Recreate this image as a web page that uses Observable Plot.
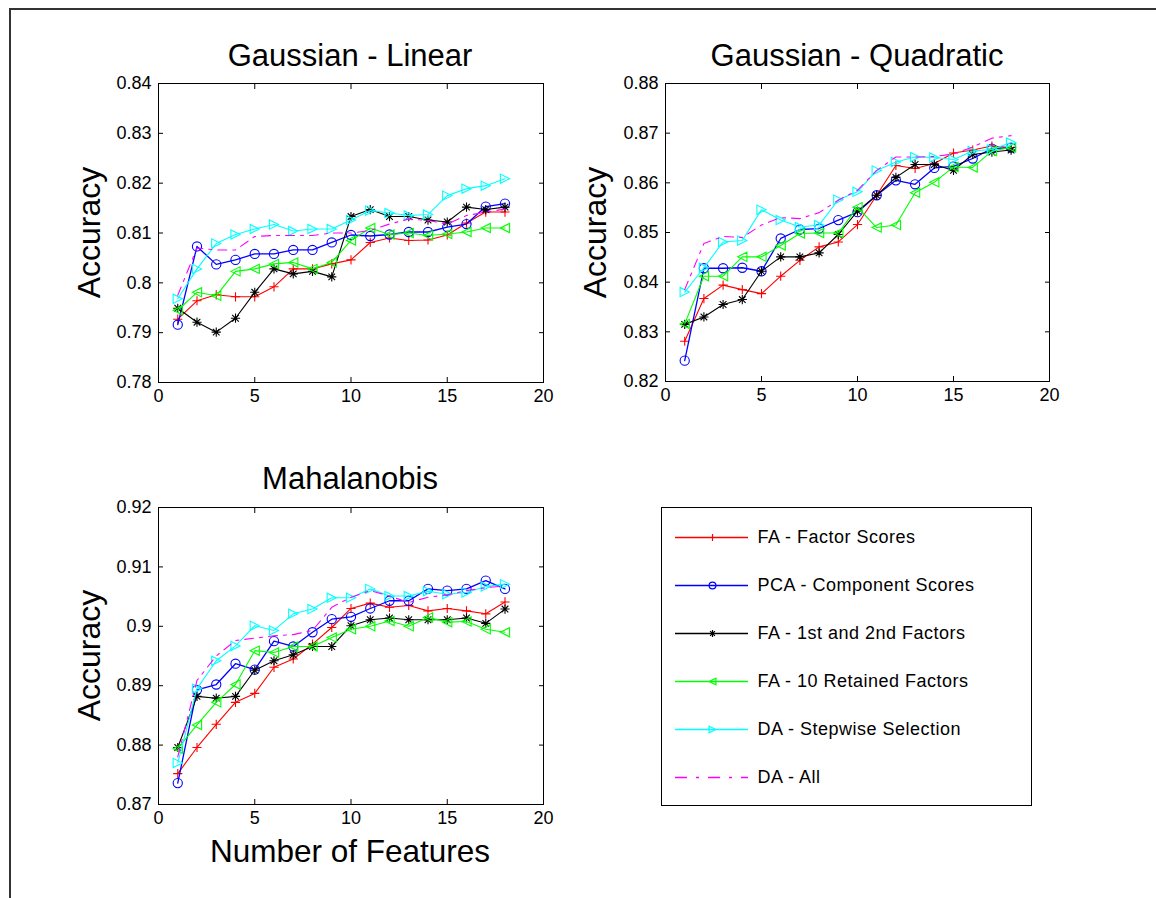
<!DOCTYPE html>
<html><head><meta charset="utf-8">
<script src="https://cdn.jsdelivr.net/npm/d3@7"></script>
<script src="https://cdn.jsdelivr.net/npm/@observablehq/plot@0.6"></script>
<style>
html,body{margin:0;padding:0;background:#fff;overflow:hidden;}
#page{position:relative;width:1156px;height:898px;overflow:hidden;background:#fff;font-family:"Liberation Sans",Arial,Helvetica,sans-serif;}
#border{position:absolute;left:9px;top:8px;width:1300px;height:1000px;border-left:2px solid #333;border-top:2px solid #333;}
.panel{position:absolute;}
#overlay{position:absolute;left:0;top:0;pointer-events:none;}
</style></head><body><div id="page"><div id="border"></div></div>
<script>
// ---- data ----
const features = [1,2,3,4,5,6,7,8,9,10,11,12,13,14,15,16,17,18];
const xTicks = [0,5,10,15,20];
const seriesNames = ["FA - Factor Scores","PCA - Component Scores","FA - 1st and 2nd Factors","FA - 10 Retained Factors","DA - Stepwise Selection","DA - All"];
const seriesColors = ["#ff0000","#0000ff","#000000","#00ff00","#00ffff","#ff00ff"];

const linTitle = "Gaussian - Linear";
const linTicks = [0.78,0.79,0.80,0.81,0.82,0.83,0.84];
const linFA   = [0.7927,0.7964,0.7976,0.7972,0.7972,0.7992,0.8028,0.8028,0.8038,0.8046,0.8081,0.8090,0.8085,0.8086,0.8096,0.8120,0.8142,0.8142];
const linPCA  = [0.7916,0.8073,0.8037,0.8046,0.8058,0.8058,0.8066,0.8066,0.8081,0.8096,0.8094,0.8097,0.8102,0.8102,0.8112,0.8118,0.8153,0.8159];
const linFA12 = [0.7949,0.7921,0.7901,0.7929,0.7981,0.8028,0.8018,0.8023,0.8012,0.8133,0.8147,0.8133,0.8133,0.8126,0.8122,0.8152,0.8147,0.8152];
const linFA10 = [0.7945,0.7981,0.7974,0.8023,0.8028,0.8038,0.8041,0.8028,0.8041,0.8085,0.8110,0.8097,0.8100,0.8095,0.8098,0.8102,0.8110,0.8110];
const linDAS  = [0.7968,0.8028,0.8079,0.8097,0.8108,0.8117,0.8104,0.8108,0.8108,0.8126,0.8145,0.8140,0.8135,0.8137,0.8175,0.8189,0.8195,0.8209];
const linDAA  = [0.7975,0.8070,0.8066,0.8066,0.8093,0.8095,0.8095,0.8095,0.8100,0.8100,0.8105,0.8118,0.8128,0.8125,0.8118,0.8135,0.8142,0.8148];

const quaTitle = "Gaussian - Quadratic";
const quaTicks = [0.82,0.83,0.84,0.85,0.86,0.87,0.88];
const quaFA   = [0.8281,0.8367,0.8394,0.8385,0.8377,0.8412,0.8444,0.8471,0.8481,0.8516,0.8575,0.8635,0.8629,0.8639,0.8660,0.8666,0.8674,0.8671];
const quaPCA  = [0.8242,0.8428,0.8428,0.8429,0.8422,0.8488,0.8506,0.8508,0.8525,0.8541,0.8575,0.8605,0.8597,0.8630,0.8633,0.8649,0.8669,0.8671];
const quaFA12 = [0.8315,0.8330,0.8355,0.8365,0.8422,0.8451,0.8451,0.8459,0.8496,0.8543,0.8575,0.8611,0.8637,0.8637,0.8625,0.8657,0.8662,0.8666];
const quaFA10 = [0.8316,0.8412,0.8412,0.8451,0.8451,0.8474,0.8498,0.8499,0.8499,0.8551,0.8510,0.8515,0.8580,0.8601,0.8632,0.8631,0.8664,0.8671];
const quaDAS  = [0.8380,0.8429,0.8481,0.8484,0.8546,0.8525,0.8511,0.8515,0.8566,0.8582,0.8625,0.8642,0.8652,0.8651,0.8647,0.8664,0.8667,0.8681];
const quaDAA  = [0.8385,0.8478,0.8492,0.8490,0.8515,0.8530,0.8528,0.8540,0.8565,0.8585,0.8625,0.8652,0.8652,0.8653,0.8658,0.8672,0.8690,0.8695];

const mahTitle = "Mahalanobis";
const mahTicks = [0.87,0.88,0.89,0.90,0.91,0.92];
const mahFA   = [0.8752,0.8796,0.8835,0.8872,0.8887,0.8931,0.8945,0.8970,0.8998,0.9030,0.9039,0.9032,0.9035,0.9026,0.9030,0.9026,0.9021,0.9041];
const mahPCA  = [0.8736,0.8893,0.8902,0.8937,0.8927,0.8975,0.8966,0.8990,0.9012,0.9016,0.9030,0.9043,0.9043,0.9063,0.9060,0.9063,0.9077,0.9063];
const mahFA12 = [0.8796,0.8882,0.8879,0.8882,0.8926,0.8942,0.8952,0.8966,0.8966,0.9001,0.9011,0.9014,0.9011,0.9011,0.9011,0.9014,0.9005,0.9029];
const mahFA10 = [0.8794,0.8834,0.8872,0.8902,0.8959,0.8956,0.8966,0.8966,0.8981,0.8995,0.9000,0.9009,0.9000,0.9015,0.9007,0.9008,0.8995,0.8990];
const mahDAS  = [0.8770,0.8895,0.8942,0.8967,0.9001,0.8993,0.9021,0.9029,0.9048,0.9048,0.9063,0.9051,0.9051,0.9059,0.9054,0.9057,0.9067,0.9071];
const mahDAA  = [0.8780,0.8909,0.8950,0.8976,0.8980,0.8984,0.8986,0.8993,0.9032,0.9049,0.9060,0.9051,0.9040,0.9049,0.9053,0.9060,0.9065,0.9068];

const yLabel = "Accuracy";
const xLabel = "Number of Features";

// ---- symbols (MATLAB-like markers) ----
const rad = s => Math.sqrt(s / Math.PI);
const symPlus = {draw(c, s){const r = rad(s); c.moveTo(-r,0); c.lineTo(r,0); c.moveTo(0,-r); c.lineTo(0,r);}};
const symStar = {draw(c, s){const r = rad(s), d = r*0.72; c.moveTo(-r,0); c.lineTo(r,0); c.moveTo(0,-r); c.lineTo(0,r); c.moveTo(-d,-d); c.lineTo(d,d); c.moveTo(-d,d); c.lineTo(d,-d);}};
const symTriL = {draw(c, s){const r = rad(s); c.moveTo(-r,0); c.lineTo(r,-r); c.lineTo(r,r); c.closePath();}};
const symTriR = {draw(c, s){const r = rad(s); c.moveTo(r,0); c.lineTo(-r,-r); c.lineTo(-r,r); c.closePath();}};
const seriesSymbols = [symPlus, "circle", symStar, symTriL, symTriR, null];
const seriesDash = [null, null, null, null, null, "9,6,3,6"];
const seriesWidth = [1.1, 1.3, 1.1, 1.1, 1.1, 1.1];

const FONT = '"Liberation Sans", Arial, Helvetica, sans-serif';
const fmtY = d => String(+d.toFixed(2));

function panel(seriesVals, ticks, geo) {
  const marks = [Plot.frame({stroke: "#000", strokeWidth: 1})];
  seriesVals.forEach((vals, i) => {
    const rows = features.map((x, j) => ({x, y: vals[j]}));
    marks.push(Plot.line(rows, {x: "x", y: "y", stroke: seriesColors[i], strokeWidth: seriesWidth[i],
      strokeDasharray: seriesDash[i] || undefined}));
    if (seriesSymbols[i]) {
      marks.push(Plot.dot(rows, {x: "x", y: "y", symbol: seriesSymbols[i], r: 4.6, stroke: seriesColors[i], fill: "none", strokeWidth: 1.1}));
    }
  });
  marks.push(
    Plot.axisX({anchor: "bottom", ticks: xTicks, tickSize: -5, tickPadding: 12, tickFormat: d => String(d), label: null}),
    Plot.axisX({anchor: "top", ticks: xTicks, tickSize: -5, tickFormat: () => "", label: null}),
    Plot.axisY({anchor: "left", ticks, tickSize: -5, tickPadding: 12, tickFormat: fmtY, label: null}),
    Plot.axisY({anchor: "right", ticks, tickSize: -5, tickFormat: () => "", label: null})
  );
  const svg = Plot.plot({
    width: geo.w, height: geo.h,
    marginLeft: geo.ml, marginRight: geo.mr, marginTop: geo.mt, marginBottom: geo.mb,
    x: {domain: [0, 20]},
    y: {domain: [ticks[0], ticks[ticks.length-1]]},
    style: {fontSize: "18px", fontFamily: FONT, color: "#000", background: "transparent", overflow: "visible"},
    marks
  });
  const div = document.createElement("div");
  div.className = "panel";
  div.style.left = geo.left + "px"; div.style.top = geo.top + "px";
  div.style.width = geo.w + "px"; div.style.height = geo.h + "px";
  div.appendChild(svg);
  document.getElementById("page").appendChild(div);
}

panel([linFA, linPCA, linFA12, linFA10, linDAS, linDAA], linTicks,
  {left: 60, top: 70, w: 500, h: 350, ml: 98, mr: 17, mt: 13, mb: 38});
panel([quaFA, quaPCA, quaFA12, quaFA10, quaDAS, quaDAA], quaTicks,
  {left: 560, top: 70, w: 500, h: 350, ml: 105, mr: 11, mt: 13, mb: 39});
panel([mahFA, mahPCA, mahFA12, mahFA10, mahDAS, mahDAA], mahTicks,
  {left: 60, top: 494, w: 500, h: 346, ml: 98, mr: 17, mt: 13, mb: 36});

// ---- legend ----
(function(){
  const marks = [Plot.frame({stroke: "#000", strokeWidth: 1})];
  seriesNames.forEach((name, i) => {
    marks.push(Plot.ruleY([name], {y: d => d, x1: 14, x2: 87, stroke: seriesColors[i], strokeWidth: 1.4,
      strokeDasharray: seriesDash[i] ? "12,9,3,9" : undefined}));
    if (seriesSymbols[i]) marks.push(Plot.dot([name], {y: d => d, x: 51, symbol: seriesSymbols[i], r: 3.4, stroke: seriesColors[i], fill: "none", strokeWidth: 1.2}));
  });
  marks.push(Plot.text(seriesNames, {y: d => d, x: 96, text: d => d, textAnchor: "start", fill: "#000", fontSize: 18}));
  const svg = Plot.plot({
    width: 370, height: 298, margin: 0,
    x: {domain: [0, 370], range: [0, 370], axis: null},
    y: {type: "point", domain: seriesNames, range: [29, 270], padding: 0, axis: null},
    style: {fontFamily: FONT, letterSpacing: "0.5px", color: "#000", background: "transparent", overflow: "visible"},
    marks
  });
  const div = document.createElement("div");
  div.className = "panel";
  div.style.left = "661px"; div.style.top = "507px"; div.style.width = "370px"; div.style.height = "298px";
  div.appendChild(svg);
  document.getElementById("page").appendChild(div);
})();

// ---- titles and axis labels ----
const ov = `<svg id="overlay" width="1156" height="898" style="font-family:${FONT.replace(/"/g,"'")};fill:#000">
  <text x="350" y="66" font-size="31" text-anchor="middle">${linTitle}</text>
  <text x="857" y="66" font-size="31" text-anchor="middle">${quaTitle}</text>
  <text x="350" y="489" font-size="31" text-anchor="middle">${mahTitle}</text>
  <text transform="translate(100,232.5) rotate(-90)" font-size="32" text-anchor="middle">${yLabel}</text>
  <text transform="translate(606,232.5) rotate(-90)" font-size="32" text-anchor="middle">${yLabel}</text>
  <text transform="translate(100,655.5) rotate(-90)" font-size="32" text-anchor="middle">${yLabel}</text>
  <text x="350" y="862" font-size="31.5" text-anchor="middle">${xLabel}</text>
</svg>`;
document.getElementById("page").insertAdjacentHTML("beforeend", ov);
</script></body></html>
